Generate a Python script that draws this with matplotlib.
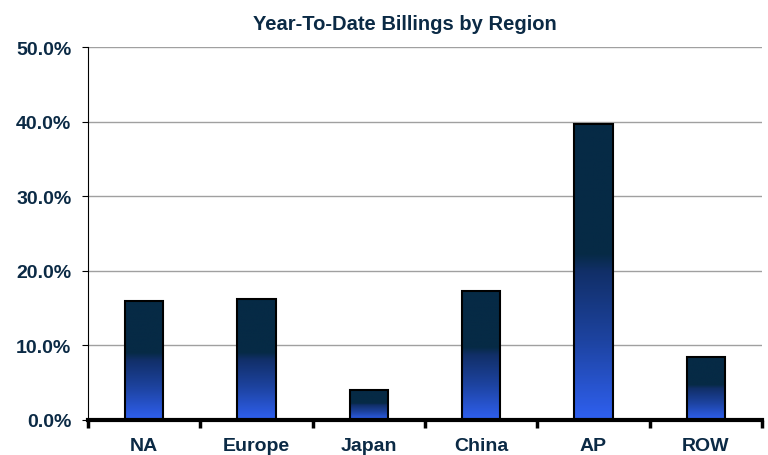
import matplotlib.pyplot as plt
import numpy as np
from matplotlib.colors import LinearSegmentedColormap

regions = ['NA', 'Europe', 'Japan', 'China', 'AP', 'ROW']
billings = [16.0, 16.2, 4.0, 17.3, 39.7, 8.4]
yticks = [0, 10, 20, 30, 40, 50]

plt.rcParams['font.family'] = ['Liberation Sans', 'DejaVu Sans']
txt = '#0b2a45'

fig = plt.figure(figsize=(7.68, 4.56), dpi=100)
ax = fig.add_axes([0.1146, 0.0768, 0.8776, 0.8179])

cmap = LinearSegmentedColormap.from_list(
    'g', [(0, '#2f60f0'), (0.27, '#1d43a0'), (0.5, '#112f68'), (0.56, '#062a45'), (1, '#062a45')])
grad = np.linspace(0, 1, 256).reshape(-1, 1)
x = np.arange(len(regions))
w = 0.34
for xi, v in zip(x, billings):
    bars = ax.bar(xi, v, width=w, color='none', edgecolor='black', linewidth=1.5, zorder=3)
    im = ax.imshow(grad, cmap=cmap, origin='lower', aspect='auto',
                   extent=[xi - w / 2, xi + w / 2, 0, v], zorder=2)
    im.set_clip_path(bars[0])

ax.set_xlim(-0.5, len(regions) - 0.5)
ax.set_ylim(0, 50)
ax.set_yticks(yticks)
ax.set_yticklabels([f'{t:.1f}%' for t in yticks], fontsize=14, fontweight='bold', color=txt)
ax.set_xticks(x)
ax.set_xticklabels(regions, fontsize=14, fontweight='bold', color=txt)
ax.set_xticks(np.arange(len(regions) + 1) - 0.5, minor=True)
ax.tick_params(axis='x', which='major', length=0, pad=12)
ax.tick_params(axis='x', which='minor', length=6, width=2.5, direction='out')
ax.tick_params(axis='y', length=4, width=0.8, pad=8)
ax.grid(axis='y', color='#a0a0a0', linewidth=1, zorder=0)
for s in ['top', 'right']:
    ax.spines[s].set_visible(False)
ax.spines['bottom'].set_linewidth(3)
ax.spines['left'].set_linewidth(0.8)
ax.set_axisbelow(True)

fig.text(0.527, 0.947, 'Year-To-Date Billings by Region', ha='center', va='center',
         fontsize=14.5, fontweight='bold', color=txt)

fig.savefig('out.png', dpi=100)
